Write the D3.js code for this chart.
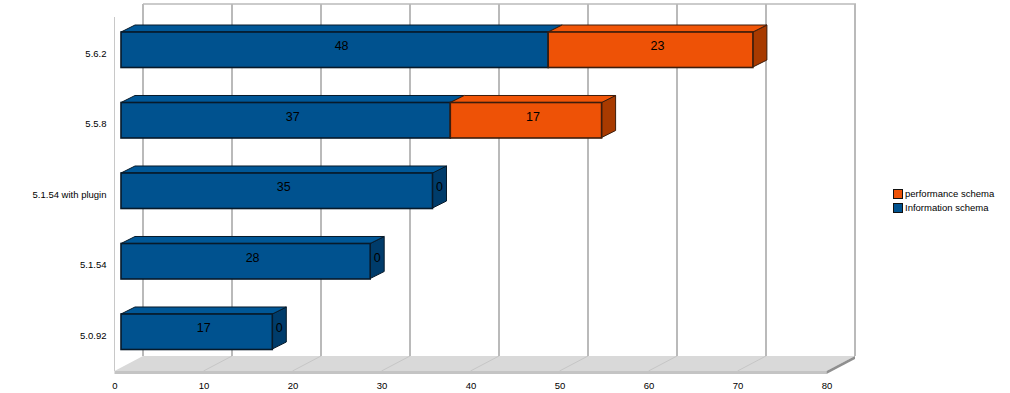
<!DOCTYPE html>
<html>
<head>
<meta charset="utf-8">
<script src="https://cdn.jsdelivr.net/npm/d3@7"></script>
<style>
  html, body { margin: 0; padding: 0; background: #fff; }
  text { font-family: "Liberation Sans", Arial, sans-serif; fill: #000; }
</style>
</head>
<body>
<div id="chart"></div>
<script>
// chart data
const versions = ["5.6.2", "5.5.8", "5.1.54 with plugin ", "5.1.54", "5.0.92"];
const informationSchema = [48, 37, 35, 28, 17];
const performanceSchema = [23, 17, 0, 0, 0];
const axisTicks = [0, 10, 20, 30, 40, 50, 60, 70, 80];
const legendLabels = ["performance schema", "Information schema"];

const WIDTH = 1010;
const HEIGHT = 393;

// front edge of the floor, the back wall sits up and to the right of it
const FRONT_X = 114.5;
const FRONT_Y = 371;
const WALL_DX = 28.5;
const WALL_DY = 15;
const WALL_TOP = 4;
// bars are drawn a bit behind the front edge
const BAR_INSET = 6.5;
const BAR_DX = 14;
const BAR_DY = 7;

const colors = {
  info: { front: "#00528f", top: "#005797", side: "#003c6b", edge: "#071a2a" },
  perf: { front: "#ee5206", top: "#f15507", side: "#a83a00", edge: "#3d1d0c" },
};

const svg = d3
  .select("#chart")
  .append("svg")
  .attr("width", WIDTH)
  .attr("height", HEIGHT)
  .style("display", "block");

const x = d3.scaleLinear().domain([0, 80]).range([0, 712]);
const y = d3.scaleBand().domain(versions).range([32, 349]).paddingInner(0.5035);

const pts = (list) => list.map((p) => p.join(",")).join(" ");

// Left wall line
svg
  .append("line")
  .attr("x1", FRONT_X)
  .attr("x2", FRONT_X)
  .attr("y1", 17)
  .attr("y2", FRONT_Y)
  .attr("stroke", "#c8c8c8")
  .attr("stroke-width", 1);

// Floor
const floorLeft = FRONT_X + x(0);
const floorRight = FRONT_X + x(80);
svg
  .append("polygon")
  .attr(
    "points",
    pts([
      [floorLeft, FRONT_Y],
      [floorLeft + WALL_DX, FRONT_Y - WALL_DY],
      [floorRight + WALL_DX, FRONT_Y - WALL_DY],
      [floorRight, FRONT_Y],
    ])
  )
  .attr("fill", "#d9d9d9");
svg
  .append("rect")
  .attr("x", floorLeft)
  .attr("y", FRONT_Y)
  .attr("width", x(80))
  .attr("height", 3)
  .attr("fill", "#c4c4c4");
svg
  .append("polygon")
  .attr(
    "points",
    pts([
      [floorRight, FRONT_Y],
      [floorRight + WALL_DX, FRONT_Y - WALL_DY],
      [floorRight + WALL_DX, FRONT_Y - WALL_DY + 3],
      [floorRight, FRONT_Y + 3],
    ])
  )
  .attr("fill", "#8f8f8f");

// Grid on the floor and the back wall
svg
  .append("g")
  .selectAll("line")
  .data(axisTicks.slice(1, -1))
  .join("line")
  .attr("x1", (d) => FRONT_X + x(d))
  .attr("y1", FRONT_Y)
  .attr("x2", (d) => FRONT_X + x(d) + WALL_DX)
  .attr("y2", FRONT_Y - WALL_DY)
  .attr("stroke", "#c6c6c6")
  .attr("stroke-width", 1);

svg
  .append("g")
  .selectAll("line")
  .data(axisTicks)
  .join("line")
  .attr("x1", (d) => FRONT_X + WALL_DX + x(d))
  .attr("x2", (d) => FRONT_X + WALL_DX + x(d))
  .attr("y1", WALL_TOP)
  .attr("y2", FRONT_Y - WALL_DY)
  .attr("stroke", "#bababa")
  .attr("stroke-width", 2);

svg
  .append("line")
  .attr("x1", FRONT_X + WALL_DX + x(0))
  .attr("x2", FRONT_X + WALL_DX + x(80) + 1)
  .attr("y1", WALL_TOP)
  .attr("y2", WALL_TOP)
  .attr("stroke", "#bababa")
  .attr("stroke-width", 1.5);

// Bars, one group per version
const rows = versions.map((v, i) => ({
  version: v,
  info: informationSchema[i],
  perf: performanceSchema[i],
}));

const barX = (value) => FRONT_X + BAR_INSET + x(value);

rows.forEach((row) => {
  const top = y(row.version);
  const bottom = top + y.bandwidth();
  const g = svg.append("g");
  const segments = [
    { key: "info", from: 0, to: row.info },
    { key: "perf", from: row.info, to: row.info + row.perf },
  ];
  const visible = segments.filter((s) => s.to > s.from);
  const last = visible[visible.length - 1];

  // side face first so the front edges sit on top of it
  g.append("polygon")
    .attr(
      "points",
      pts([
        [barX(last.to), top],
        [barX(last.to) + BAR_DX, top - BAR_DY],
        [barX(last.to) + BAR_DX, bottom - BAR_DY],
        [barX(last.to), bottom],
      ])
    )
    .attr("fill", colors[last.key].side)
    .attr("stroke", colors[last.key].edge)
    .attr("stroke-width", 1)
    .attr("stroke-linejoin", "round");

  visible.forEach((s) => {
    const c = colors[s.key];
    g.append("polygon")
      .attr(
        "points",
        pts([
          [barX(s.from), top],
          [barX(s.from) + BAR_DX, top - BAR_DY],
          [barX(s.to) + BAR_DX, top - BAR_DY],
          [barX(s.to), top],
        ])
      )
      .attr("fill", c.top)
      .attr("stroke", c.edge)
      .attr("stroke-width", 1)
      .attr("stroke-linejoin", "round");
  });

  visible.forEach((s) => {
    const c = colors[s.key];
    g.append("rect")
      .attr("x", barX(s.from))
      .attr("y", top)
      .attr("width", barX(s.to) - barX(s.from))
      .attr("height", y.bandwidth() + 0.5)
      .attr("fill", c.front)
      .attr("stroke", c.edge)
      .attr("stroke-width", 1.6);
  });

  // value labels are centred half way into the bar depth
  segments.forEach((s) => {
    g.append("text")
      .attr("x", (barX(s.from) + barX(s.to)) / 2 + BAR_DX / 2)
      .attr("y", (top + bottom) / 2 - BAR_DY / 2)
      .attr("dy", "0.35em")
      .attr("text-anchor", "middle")
      .attr("font-size", 12.5)
      .text(s.to - s.from);
  });
});

// Category labels
svg
  .append("g")
  .selectAll("text")
  .data(versions)
  .join("text")
  .attr("x", 106.5)
  .attr("y", (d) => y(d) + y.bandwidth() / 2 + 4.5)
  .attr("dy", "0.3em")
  .attr("text-anchor", "end")
  .attr("font-size", 9.5)
  .text((d) => d.trim());

// X axis labels
svg
  .append("g")
  .attr("transform", `translate(${FRONT_X},${FRONT_Y + 6})`)
  .call(d3.axisBottom(x).tickValues(axisTicks).tickSize(0).tickPadding(5))
  .call((g) => g.select(".domain").remove())
  .call((g) =>
    g
      .selectAll("text")
      .attr("font-family", '"Liberation Sans", Arial, sans-serif')
      .attr("font-size", 9.5)
      .attr("fill", "#000")
  );

// Legend
const legend = svg
  .append("g")
  .selectAll("g")
  .data(legendLabels)
  .join("g")
  .attr("transform", (d, i) => `translate(893.5,${189.5 + i * 14})`);
legend
  .append("rect")
  .attr("width", 9)
  .attr("height", 9)
  .attr("fill", (d, i) => (i === 0 ? colors.perf.front : colors.info.front))
  .attr("stroke", "#111")
  .attr("stroke-width", 1);
legend
  .append("text")
  .attr("x", 11.5)
  .attr("y", 4.5)
  .attr("dy", "0.35em")
  .attr("font-size", 9.5)
  .text((d) => d);
</script>
</body>
</html>
